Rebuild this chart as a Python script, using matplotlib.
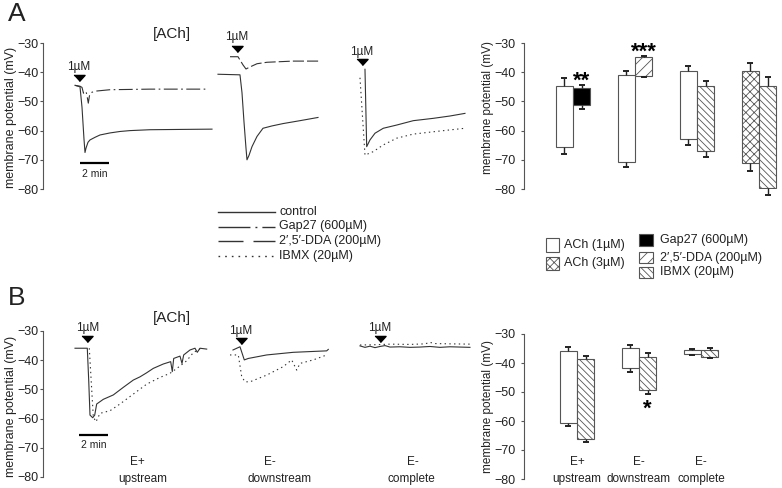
import matplotlib
matplotlib.use('Agg')
import matplotlib.pyplot as plt
from matplotlib.patches import Rectangle

plt.rcParams['font.family'] = ['Liberation Sans', 'DejaVu Sans']
plt.rcParams['lines.scale_dashes'] = False
plt.rcParams['hatch.linewidth'] = 0.6

# ------------------------------------------------------------------ data
YTICKS = [-30, -40, -50, -60, -70, -80]

# Panel A traces (time in min on a shared axis, membrane potential in mV)
a1_ctrl_t = [2.207, 2.552, 2.690, 2.828, 2.897, 2.966, 3.103, 3.241, 3.586, 3.931, 4.621, 5.310, 6.0, 7.379, 9.448, 11.655]
a1_ctrl_v = [-44.5, -45.0, -52.0, -63.0, -67.5, -66.0, -64.0, -63.2, -62.3, -61.5, -60.8, -60.3, -60.0, -59.7, -59.6, -59.5]
a1_gap_t = [2.207, 2.552, 2.690, 2.793, 2.897, 2.966, 3.034, 3.124, 3.207, 3.310, 3.586, 4.621, 7.379, 11.310]
a1_gap_v = [-44.5, -44.8, -45.2, -47.2, -46.8, -46.6, -48.0, -50.6, -48.0, -47.0, -46.5, -46.0, -45.8, -45.8]
a2_ctrl_t = [12.069, 13.586, 13.724, 13.862, 14.0, 14.069, 14.207, 14.414, 14.759, 15.172, 15.793, 16.552, 17.724, 18.966]
a2_ctrl_v = [-40.7, -40.9, -47.0, -57.0, -66.0, -70.0, -68.5, -65.5, -62.0, -59.2, -58.4, -57.6, -56.6, -55.5]
a2_dda_t = [12.897, 13.448, 13.793, 14.0, 14.276, 14.759, 15.448, 17.241, 19.103]
a2_dda_v = [-34.7, -34.7, -37.5, -38.9, -38.2, -37.1, -36.6, -36.2, -36.2]
a3_ctrl_t = [22.207, 22.324, 22.552, 22.897, 23.469, 24.393, 25.538, 26.917, 28.069, 29.103]
a3_ctrl_v = [-39.0, -65.5, -63.2, -60.9, -59.2, -58.1, -56.6, -55.8, -55.0, -54.1]
a3_ibmx_t = [21.862, 22.207, 22.779, 23.469, 24.393, 25.538, 26.917, 29.103]
a3_ibmx_v = [-41.9, -68.4, -67.2, -64.9, -62.6, -61.2, -60.4, -59.2]

# Panel B traces
b1_ctrl_t = [2.207, 3.055, 3.152, 3.241, 3.428, 3.566, 3.703, 4.159, 4.848, 5.538, 6.228, 6.690, 7.152, 7.607,
             8.297, 8.807, 8.917, 9.014, 9.448, 9.586, 9.703, 10.138, 10.483, 10.641, 10.828, 11.290]
b1_ctrl_v = [-35.9, -35.9, -46.8, -58.8, -59.7, -58.8, -55.0, -53.4, -51.9, -49.3, -46.8, -45.7, -44.3, -42.8,
             -41.3, -40.5, -43.9, -39.4, -38.6, -41.1, -38.2, -36.5, -35.9, -37.3, -35.9, -36.2]
b1_ibmx_t = [3.193, 3.469, 3.655, 3.931, 4.621, 5.310, 6.228, 7.152, 8.069, 8.759, 9.448, 9.910, 10.366, 10.828]
b1_ibmx_v = [-35.9, -59.4, -61.1, -58.2, -57.3, -55.0, -51.6, -48.2, -45.9, -44.5, -42.0, -40.2, -37.4, -36.1]
b2_ctrl_t = [13.103, 13.586, 13.883, 14.159, 15.428, 17.262, 19.566, 19.676]
b2_ctrl_v = [-36.5, -35.4, -39.9, -39.4, -38.2, -37.3, -36.8, -36.3]
b2_ibmx_t = [12.897, 13.469, 13.703, 13.931, 14.276, 15.428, 16.572, 17.152, 17.497, 17.724, 18.641, 19.566]
b2_ibmx_v = [-38.2, -38.2, -45.6, -47.4, -47.4, -45.1, -42.2, -39.9, -43.4, -41.1, -39.9, -38.2]
b3_ctrl_t = [21.862, 22.207, 22.552, 22.897, 23.241, 23.586, 23.931, 24.621, 25.310, 26.0, 26.690, 27.379, 28.069, 28.759, 29.448]
b3_ctrl_v = [-35.1, -35.6, -35.2, -35.7, -35.3, -35.0, -35.5, -35.4, -35.6, -35.5, -35.3, -35.6, -35.4, -35.5, -35.6]
b3_ibmx_t = [21.862, 22.897, 23.931, 25.310, 26.345, 26.690, 27.034, 28.069, 29.448]
b3_ibmx_v = [-34.8, -34.7, -34.5, -34.6, -34.4, -33.9, -34.3, -34.4, -34.5]

# ACh application markers (time, marker level, label level)
a_arrow_t = [2.483, 13.359, 21.979]
a_arrow_v = [-42.0, -32.2, -36.4]
a_arrow_lbl = [-38.1, -27.8, -33.0]
b_arrow_t = [3.055, 13.634, 23.241]
b_arrow_v = [-32.8, -33.4, -32.8]
b_arrow_lbl = [-29.1, -29.9, -29.1]

# Panel A bars: 4 groups (left bar, right bar), floating from bottom to top
a_left_kind = ['ach1', 'ach1', 'ach1', 'ach3']
a_left_top = [-44.6, -41.1, -39.7, -39.6]
a_left_bot = [-65.5, -70.8, -63.0, -71.1]
a_left_etop = [-42.0, -39.7, -37.8, -37.0]
a_left_ebot = [-68.0, -72.3, -65.0, -73.8]
a_right_kind = ['gap27', 'dda', 'ibmx', 'ibmx']
a_right_top = [-45.5, -34.9, -44.8, -44.6]
a_right_bot = [-51.2, -41.2, -67.0, -79.6]
a_right_etop = [-44.3, -34.5, -43.0, -41.8]
a_right_ebot = [-52.5, -41.8, -68.9, -82.1]
a_stars = ['**', '***', '', '']
a_star_v = [-43.0, -33.3, 0, 0]

# Panel B bars
b_cats = ['E+', 'E-', 'E-']
b_subcats = ['upstream', 'downstream', 'complete']
b_left_top = [-36.0, -34.9, -35.6]
b_left_bot = [-60.7, -41.7, -37.0]
b_left_etop = [-34.6, -33.8, -35.0]
b_left_ebot = [-61.8, -43.0, -37.3]
b_right_top = [-38.7, -37.9, -35.6]
b_right_bot = [-66.1, -49.3, -37.9]
b_right_etop = [-37.5, -36.7, -34.8]
b_right_ebot = [-67.4, -50.6, -38.3]
b_stars = ['', '*', '']
b_star_v = [0, -55.9, 0]

trace_legend = ['control', 'Gap27 (600µM)', '2′,5′-DDA (200µM)', 'IBMX (20µM)']
bar_legend_left = ['ACh (1µM)', 'ACh (3µM)']
bar_legend_right = ['Gap27 (600µM)', '2′,5′-DDA (200µM)', 'IBMX (20µM)']

# ------------------------------------------------------------------ styles
W, H = 782, 488
fig = plt.figure(figsize=(W / 100, H / 100), dpi=100)
TXT = '#222222'
LINE = '#333333'
EDGE = '#555555'

def rect(x0, yt, x1, yb):
    return [x0 / W, 1 - yb / H, (x1 - x0) / W, (yb - yt) / H]

TRACE_STYLE = {
    'control': dict(linestyle='-'),
    'gap27': dict(dashes=(10, 2.5, 1.2, 2.5)),
    'dda': dict(dashes=(8, 2.2)),
    'ibmx': dict(dashes=(1.0, 2.4)),
}
BAR_STYLE = {
    'ach1': dict(color='white', hatch=None),
    'ach3': dict(color='white', hatch='xxxx'),
    'gap27': dict(color='black', hatch=None),
    'dda': dict(color='white', hatch='///'),
    'ibmx': dict(color='white', hatch='\\\\\\\\\\'),
}
TRI = [(-1, 0.55), (1, 0.55), (0, -0.55)]

def setup_left_axis(ax, length, pad, width=0.8):
    for s in ['top', 'right', 'bottom']:
        ax.spines[s].set_visible(False)
    ax.spines['left'].set_color(EDGE)
    ax.spines['left'].set_linewidth(width)
    ax.set_ylim(-80, -30)
    ax.set_yticks(YTICKS)
    ax.set_xticks([])
    ax.tick_params(axis='y', length=length, pad=pad, labelsize=9, colors=EDGE, labelcolor=TXT, width=0.8)
    ax.patch.set_alpha(0)

def trace(ax, t, v, kind):
    ax.plot(t, v, color=LINE, lw=0.8, dash_capstyle='butt', clip_on=False, **TRACE_STYLE[kind])

def arrows(ax, ts, vs, ls):
    for t, v, l in zip(ts, vs, ls):
        ax.plot([t], [v], marker=TRI, ms=8, color='black', ls='none', clip_on=False)
        ax.text(t, l, '1µM', ha='center', va='center', fontsize=8.5, color=TXT)

# ------------------------------------------------------------------ panel A traces
axA = fig.add_axes(rect(43, 43, 470, 189))
setup_left_axis(axA, 2.2, 1.0)
axA.set_xlim(0, 29.45)
trace(axA, a1_ctrl_t, a1_ctrl_v, 'control')
trace(axA, a1_gap_t, a1_gap_v, 'gap27')
trace(axA, a2_ctrl_t, a2_ctrl_v, 'control')
trace(axA, a2_dda_t, a2_dda_v, 'dda')
trace(axA, a3_ctrl_t, a3_ctrl_v, 'control')
trace(axA, a3_ibmx_t, a3_ibmx_v, 'ibmx')
arrows(axA, a_arrow_t, a_arrow_v, a_arrow_lbl)
axA.plot([2.55, 4.55], [-71.1, -71.1], color='black', lw=1.6, solid_capstyle='butt')
axA.text(3.55, -75.0, '2 min', ha='center', va='center', fontsize=7.5, color=TXT)
axA.text(8.9, -27.0, '[ACh]', ha='center', va='center', fontsize=11, color=TXT)

# ------------------------------------------------------------------ panel B traces
axB = fig.add_axes(rect(43, 331, 470, 477))
setup_left_axis(axB, 2.2, 1.0)
axB.set_xlim(0, 29.45)
trace(axB, b1_ctrl_t, b1_ctrl_v, 'control')
trace(axB, b1_ibmx_t, b1_ibmx_v, 'ibmx')
trace(axB, b2_ctrl_t, b2_ctrl_v, 'control')
trace(axB, b2_ibmx_t, b2_ibmx_v, 'ibmx')
trace(axB, b3_ctrl_t, b3_ctrl_v, 'control')
trace(axB, b3_ibmx_t, b3_ibmx_v, 'ibmx')
arrows(axB, b_arrow_t, b_arrow_v, b_arrow_lbl)
axB.plot([2.48, 4.48], [-65.6, -65.6], color='black', lw=1.6, solid_capstyle='butt')
axB.text(3.48, -69.0, '2 min', ha='center', va='center', fontsize=7.5, color=TXT)
axB.text(8.9, -25.5, '[ACh]', ha='center', va='center', fontsize=11, color=TXT)
for xc, xs, c, s in zip([6.52, 15.62, 25.52], [6.9, 16.32, 25.38], b_cats, b_subcats):
    axB.text(xc, -74.9, c, ha='center', va='center', fontsize=8.5, color=TXT)
    axB.text(xs, -80.7, s, ha='center', va='center', fontsize=8.5, color=TXT)

# ------------------------------------------------------------------ bars
BW = 0.28

def floating_bars(ax, xs, top, bot, etop, ebot, kinds):
    for x, t, b, et, eb, k in zip(xs, top, bot, etop, ebot, kinds):
        st = BAR_STYLE[k]
        ax.bar(x, t - b, bottom=b, width=BW, color=st['color'], hatch=st['hatch'],
               edgecolor=EDGE, linewidth=0.8, zorder=2)
        ax.vlines([x, x], [t, b], [et, eb], color=TXT, lw=1.0, zorder=3, clip_on=False)
        ax.plot([x, x], [et, eb], marker='_', ms=4.5, mew=1.4, color=TXT, ls='none',
                zorder=3, clip_on=False)

axAb = fig.add_axes(rect(524, 43, 782, 189))
setup_left_axis(axAb, 2.5, 3.3)
axAb.set_xlim(-0.79, 3.37)
ga = list(range(len(a_left_top)))
floating_bars(axAb, [g - BW / 2 for g in ga], a_left_top, a_left_bot, a_left_etop, a_left_ebot, a_left_kind)
floating_bars(axAb, [g + BW / 2 for g in ga], a_right_top, a_right_bot, a_right_etop, a_right_ebot, a_right_kind)
for g, s, v in zip(ga, a_stars, a_star_v):
    if s:
        axAb.text(g + BW / 2, v, s, ha='center', va='center', fontsize=16, fontweight='bold', color='black')

axBb = fig.add_axes(rect(524, 334, 782, 479))
setup_left_axis(axBb, 2.5, 3.3)
axBb.set_xlim(-0.855, 3.306)
gb = list(range(len(b_left_top)))
floating_bars(axBb, [g - BW / 2 for g in gb], b_left_top, b_left_bot, b_left_etop, b_left_ebot, ['ach1'] * 3)
floating_bars(axBb, [g + BW / 2 for g in gb], b_right_top, b_right_bot, b_right_etop, b_right_ebot, ['ibmx'] * 3)
for g, s, v in zip(gb, b_stars, b_star_v):
    if s:
        axBb.text(g + BW / 2, v, s, ha='center', va='center', fontsize=16, fontweight='bold', color='black')
for g, c, s in zip(gb, b_cats, b_subcats):
    axBb.text(g, -74.0, c, ha='center', va='center', fontsize=8.5, color=TXT)
    axBb.text(g, -80.1, s, ha='center', va='center', fontsize=8.5, color=TXT)

# ------------------------------------------------------------------ labels
ylab = 'membrane potential (mV)'
for x, y, fs in [(11, 117, 9), (487.5, 108, 8.5), (11, 406.7, 9), (487.5, 406.5, 8.5)]:
    fig.text(x / W, 1 - y / H, ylab, rotation=90, ha='center', va='center', fontsize=fs, color=TXT)
fig.text(16.5 / W, 1 - 14 / H, 'A', ha='center', va='center', fontsize=19, color=TXT)
fig.text(16.5 / W, 1 - 298 / H, 'B', ha='center', va='center', fontsize=19, color=TXT)

# ------------------------------------------------------------------ legends (overlay in pixel space)
lg = fig.add_axes([0, 0, 1, 1])
lg.set_xlim(0, W)
lg.set_ylim(H, 0)
lg.axis('off')
leg_dash = [dict(linestyle='-'), dict(dashes=(23, 3.6, 1.4, 3.6, 30, 1)),
            dict(dashes=(18, 7.2)), dict(dashes=(1.2, 3.6))]
for y, lab, st in zip([212, 226.5, 241, 256], trace_legend, leg_dash):
    lg.plot([218, 275], [y, y], color=LINE, lw=1.0, dash_capstyle='butt', **st)
    lg.text(279, y, lab, ha='left', va='center', fontsize=9, color=TXT)

for (y0, y1), lab, k in zip([(238.3, 251.7), (256.7, 269.5)], bar_legend_left, ['ach1', 'ach3']):
    st = BAR_STYLE[k]
    lg.add_patch(Rectangle((545.7, y0), 13.6, y1 - y0, facecolor=st['color'], hatch=st['hatch'],
                           edgecolor=EDGE, lw=0.8))
    lg.text(564, (y0 + y1) / 2, lab, ha='left', va='center', fontsize=9, color=TXT)
for (y0, y1), lab, k in zip([(234.3, 245.7), (251.7, 263.3), (266.7, 278.3)], bar_legend_right,
                            ['gap27', 'dda', 'ibmx']):
    st = BAR_STYLE[k]
    lg.add_patch(Rectangle((639.3, y0), 13.4, y1 - y0, facecolor=st['color'], hatch=st['hatch'],
                           edgecolor=EDGE, lw=0.8))
    lg.text(659.5, (y0 + y1) / 2, lab, ha='left', va='center', fontsize=9, color=TXT)

fig.savefig('out.png', dpi=100)
